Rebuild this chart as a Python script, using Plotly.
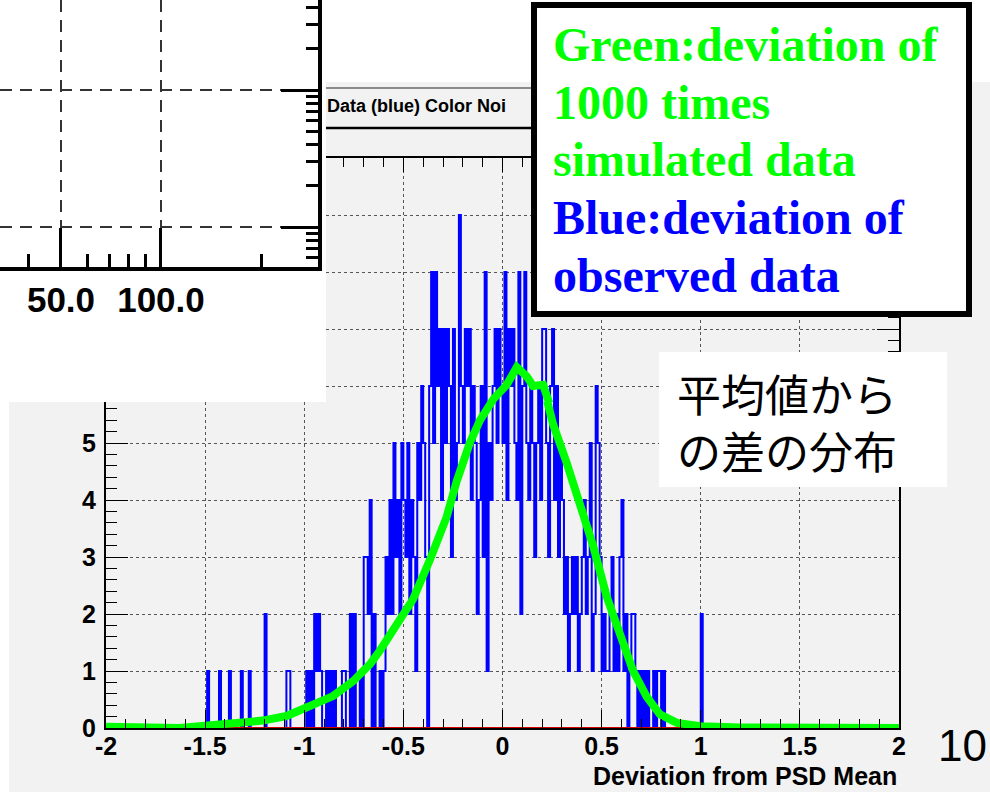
import plotly.graph_objects as go

W, H = 990, 792

# ---------------------------------------------------------------- data
# observed deviations from the PSD mean, counts per 0.01-wide bin from -1.50
bin_start = -1.50
bin_width = 0.01
obs_counts = [
    0, 1, 0, 0, 0, 0, 0, 1, 0, 0,   # -1.50
    0, 0, 1, 0, 0, 0, 0, 0, 1, 0,   # -1.40
    0, 0, 1, 0, 0, 0, 0, 0, 0, 0,   # -1.30
    2, 0, 0, 0, 0, 0, 0, 0, 0, 0,   # -1.20
    0, 1, 1, 0, 0, 0, 0, 0, 0, 0,   # -1.10
    0, 1, 0, 1, 0, 2, 1, 2, 1, 0,   # -1.00
    0, 1, 0, 1, 0, 1, 0, 0, 0, 1,   # -0.90
    1, 0, 0, 2, 0, 2, 0, 0, 1, 0,   # -0.80
    3, 3, 2, 4, 0, 2, 0, 0, 1, 0,   # -0.70
    1, 3, 2, 4, 2, 5, 3, 4, 2, 5,   # -0.60
    4, 3, 5, 2, 4, 3, 1, 5, 4, 6,   # -0.50
    5, 3, 0, 6, 8, 5, 8, 6, 7, 4,   # -0.40
    7, 5, 7, 6, 3, 7, 4, 5, 9, 6,   # -0.30
    5, 7, 6, 7, 4, 6, 5, 2, 4, 6,   # -0.20
    3, 8, 1, 5, 4, 6, 7, 5, 7, 6,   # -0.10
    5, 8, 4, 7, 6, 7, 5, 4, 8, 2,   # 0.00
    6, 8, 5, 4, 6, 5, 3, 5, 6, 4,   # 0.10
    7, 7, 5, 3, 6, 7, 4, 6, 3, 5,   # 0.20
    4, 2, 3, 1, 2, 3, 2, 3, 1, 2,   # 0.30
    3, 4, 2, 3, 5, 1, 2, 6, 5, 3,   # 0.40
    1, 2, 1, 1, 2, 3, 1, 2, 1, 3,   # 0.50
    4, 1, 2, 0, 1, 2, 2, 1, 0, 1,   # 0.60
    0, 1, 0, 1, 0, 0, 1, 0, 1, 1,   # 0.70
    0, 1, 0, 0, 0, 0, 0, 0, 0, 0,   # 0.80
    0, 0, 0, 0, 0, 0, 0, 0, 0, 0,   # 0.90
    2, 0,                           # 1.00
]

# mean deviation of the 1000 simulated data sets
sim_x = [-2.0, -1.8, -1.63, -1.5, -1.37, -1.21, -1.09, -0.955, -0.855, -0.754,
         -0.668, -0.618, -0.517, -0.451, -0.366, -0.282, -0.231, -0.164, -0.113,
         -0.046, 0.021, 0.072, 0.122, 0.154, 0.205, 0.255, 0.324, 0.391, 0.457,
         0.526, 0.593, 0.659, 0.727, 0.794, 0.88, 1.0, 1.2, 1.5, 2.0]
sim_y = [0.02, 0.01, 0.0, 0.04, 0.07, 0.13, 0.21, 0.39, 0.56, 0.82,
         1.12, 1.36, 1.89, 2.26, 2.95, 3.70, 4.33, 5.01, 5.40,
         5.77, 6.02, 6.33, 6.17, 6.0, 6.02, 5.33, 4.65, 3.96, 3.2,
         2.3, 1.6, 1.0, 0.55, 0.24, 0.09, 0.03, 0.01, 0.0, 0.0]

# zero-level reference histogram
ref_x = [-2.0, 2.0]
ref_y = [0.0, 0.0]

x_tickvals = [-2, -1.5, -1, -0.5, 0, 0.5, 1, 1.5, 2]
x_ticktext = ["-2", "-1.5", "-1", "-0.5", "0", "0.5", "1", "1.5", "2"]
y_tickvals = [0, 1, 2, 3, 4, 5, 6, 7, 8, 9, 10]
y_ticktext = ["0", "1", "2", "3", "4", "5", "6", "7", "8", "9", "10"]
x_title = "Deviation from PSD Mean"
hist_title = "Data (blue) Color Noi"

# corner panel (log-log frame)
inset_x_tickvals = [50, 100]
inset_x_ticktext = ["50.0", "100.0"]
inset_x_minor = [40, 60, 70, 80, 90, 200]
inset_y_tickvals = [10, 100]
inset_y_minor = [6, 7, 8, 9, 20, 30, 40, 50, 60, 70, 80, 90, 200, 300, 400]

legend_lines = [
    ("Green:deviation of", "#00ff00"),
    ("1000 times", "#00ff00"),
    ("simulated data", "#00ff00"),
    ("Blue:deviation of", "#0000ff"),
    ("observed data", "#0000ff"),
]
jp_caption = "平均値から<br>の差の分布"
page_no = "10"

# ---------------------------------------------------------------- geometry
def fx(px):
    return px / W


def fy(py):
    return 1 - py / H


FRAME_L, FRAME_R, FRAME_T, FRAME_B = 106, 899, 158, 728
PANEL_R, PANEL_B = 326, 402          # white corner panel
INSET_R, INSET_B = 318, 267          # log-log frame inside it
XMIN, XMAX, YMIN, YMAX = -2.0, 2.0, 0.0, 10.0

split_x = XMIN + (XMAX - XMIN) * (PANEL_R - FRAME_L) / (FRAME_R - FRAME_L)
split_y = YMIN + (YMAX - YMIN) * (FRAME_B - PANEL_B) / (FRAME_B - FRAME_T)

# step outline of the histogram
edges = [bin_start + i * bin_width for i in range(len(obs_counts) + 1)]
step_x = [XMIN] + edges + [XMAX]
step_y = [0] + obs_counts + [0, 0]

fig = go.Figure()
for xa, ya in (("x", "y"), ("x2", "y2")):
    fig.add_trace(go.Scatter(x=step_x, y=step_y, mode="lines", line_shape="hv",
                             line=dict(color="#0000ff", width=2),
                             xaxis=xa, yaxis=ya, hoverinfo="skip"))
    fig.add_trace(go.Scatter(x=ref_x, y=ref_y, mode="lines",
                             line=dict(color="#d40000", width=2),
                             xaxis=xa, yaxis=ya, hoverinfo="skip"))
    fig.add_trace(go.Scatter(x=sim_x, y=sim_y, mode="lines",
                             line=dict(color="#00ff00", width=8),
                             xaxis=xa, yaxis=ya, hoverinfo="skip"))
fig.add_trace(go.Scatter(x=[], y=[], xaxis="x3", yaxis="y3"))

tick_font = dict(family="Liberation Sans, Arial, sans-serif", size=25,
                 color="black", weight="bold")
grid_common = dict(showgrid=True, gridcolor="#555555", gridwidth=1,
                   griddash="dot", zeroline=False, showline=True,
                   linecolor="black", linewidth=2, ticks="inside",
                   tickcolor="black", tickwidth=1, automargin=False)

x_minor = dict(tickmode="linear", tick0=0, dtick=0.1, ticks="inside",
               ticklen=9, tickcolor="black", tickwidth=1, showgrid=False)
y_minor = dict(tickmode="linear", tick0=0, dtick=0.2, ticks="inside",
               ticklen=11, tickcolor="black", tickwidth=1, showgrid=False)

inset_common = dict(showline=True, linecolor="black", linewidth=4,
                    ticks="inside", tickcolor="black", tickwidth=3,
                    showgrid=True, gridcolor="#333333", gridwidth=2,
                    griddash="12px,8px", zeroline=False, type="log",
                    automargin=False)

fig.update_layout(
    width=W, height=H, autosize=False,
    margin=dict(l=0, r=0, t=0, b=0, pad=0, autoexpand=False),
    paper_bgcolor="white", plot_bgcolor="rgba(0,0,0,0)", showlegend=False,
    xaxis=dict(domain=[fx(FRAME_L), fx(FRAME_R)], range=[XMIN, XMAX],
               anchor="y", tickmode="array", tickvals=x_tickvals,
               ticktext=x_ticktext, ticklen=18, tickfont=tick_font,
               ticklabelstandoff=-5, minor=x_minor, **grid_common),
    yaxis=dict(domain=[fy(FRAME_B), fy(PANEL_B)], range=[YMIN, split_y],
               anchor="x", tickmode="array", tickvals=y_tickvals,
               ticktext=y_ticktext, ticklen=22, tickfont=tick_font,
               ticklabelstandoff=3, mirror=True, minor=y_minor, **grid_common),
    xaxis2=dict(domain=[fx(PANEL_R), fx(FRAME_R)], range=[split_x, XMAX],
                anchor="y2", side="top", tickmode="array",
                tickvals=x_tickvals, showticklabels=False, ticklen=14,
                minor=x_minor, **grid_common),
    yaxis2=dict(domain=[fy(PANEL_B), fy(FRAME_T)], range=[split_y, YMAX],
                anchor="x2", side="right", tickmode="array",
                tickvals=y_tickvals, showticklabels=False, ticklen=22,
                minor=y_minor, **grid_common),
    xaxis3=dict(domain=[0, fx(INSET_R)], range=[1.5154, 2.4726], anchor="y3",
                tickmode="array", tickvals=inset_x_tickvals,
                ticktext=inset_x_ticktext, ticklen=39,
                tickfont=dict(family="Liberation Sans, Arial, sans-serif",
                              size=35, color="black", weight="bold"),
                ticklabelstandoff=-1,
                minor=dict(tickvals=inset_x_minor, ticks="inside", ticklen=13,
                           tickcolor="black", tickwidth=3, showgrid=False),
                **inset_common),
    yaxis3=dict(domain=[fy(INSET_B), 1], range=[0.708, 2.657], anchor="x3",
                side="right", tickmode="array", tickvals=inset_y_tickvals,
                showticklabels=False, ticklen=37,
                minor=dict(tickvals=inset_y_minor, ticks="inside", ticklen=12,
                           tickcolor="black", tickwidth=3, showgrid=False),
                **inset_common),
)

shapes = [
    # grey canvas around the histogram
    dict(type="rect", xref="paper", yref="paper", x0=fx(9), x1=1,
         y0=0, y1=fy(PANEL_B), fillcolor="#f2f2f2", line_width=0, layer="below"),
    dict(type="rect", xref="paper", yref="paper", x0=fx(PANEL_R), x1=1,
         y0=fy(PANEL_B), y1=fy(82), fillcolor="#f2f2f2", line_width=0, layer="below"),
    # histogram title box
    dict(type="line", xref="paper", yref="paper", x0=fx(PANEL_R), x1=fx(640),
         y0=fy(88), y1=fy(88), line=dict(color="#222222", width=1), layer="below"),
    dict(type="line", xref="paper", yref="paper", x0=fx(PANEL_R), x1=fx(640),
         y0=fy(128), y1=fy(128), line=dict(color="black", width=2.5), layer="below"),
    # legend box
    dict(type="rect", xref="paper", yref="paper", x0=fx(534), x1=fx(969),
         y0=fy(314), y1=fy(5), fillcolor="white",
         line=dict(color="black", width=6), layer="above"),
    # caption box
    dict(type="rect", xref="paper", yref="paper", x0=fx(659), x1=fx(947),
         y0=fy(487), y1=fy(352), fillcolor="white", line_width=0, layer="above"),
]
fig.update_layout(shapes=shapes)

ann = []
ann.append(dict(text=hist_title, xref="paper", yref="paper", x=fx(325), y=fy(106),
                xanchor="left", yanchor="middle", showarrow=False,
                font=dict(family="Liberation Sans, Arial, sans-serif", size=18,
                          color="black", weight="bold")))
legend_mid = [45, 102, 160, 217, 275]
for (txt, col), ym in zip(legend_lines, legend_mid):
    ann.append(dict(text=txt, xref="paper", yref="paper", x=fx(551), y=fy(ym),
                    xanchor="left", yanchor="middle", showarrow=False,
                    font=dict(family="Liberation Serif, Times New Roman, serif",
                              size=48, color=col, weight="bold")))
# two-line caption as a single block
ann.append(dict(text=jp_caption, xref="paper", yref="paper", x=fx(675),
                y=fy(421), xanchor="left", yanchor="middle", align="left",
                showarrow=False,
                font=dict(family="Noto Sans CJK JP, sans-serif", size=44,
                          color="black")))
ann.append(dict(text=x_title, xref="paper", yref="paper", x=fx(899), y=fy(776),
                xanchor="right", yanchor="middle", showarrow=False,
                font=dict(family="Liberation Sans, Arial, sans-serif", size=25,
                          color="black", weight="bold")))
ann.append(dict(text=page_no, xref="paper", yref="paper", x=fx(962), y=fy(745),
                xanchor="center", yanchor="middle", showarrow=False,
                font=dict(family="Liberation Sans, Arial, sans-serif", size=44,
                          color="black")))
fig.update_layout(annotations=ann)

# the page body gets no default margin so the figure fills the window exactly
fig.write_html("out.html",
               post_script="document.body.style.margin='0';"
                           "document.body.style.overflow='hidden';")
